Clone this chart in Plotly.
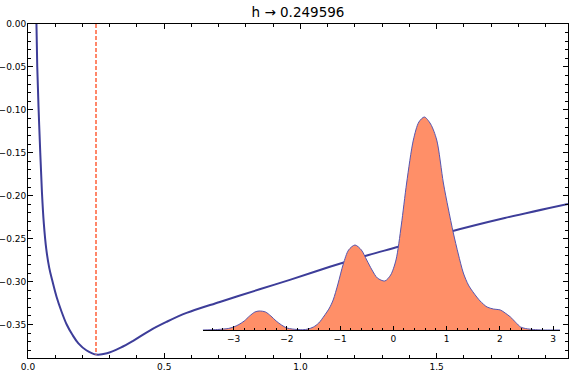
import plotly.graph_objects as go

# ---- main curve: cross-validation score vs bandwidth h ----
h_vals = [0.031, 0.034, 0.039, 0.045, 0.051, 0.058, 0.067, 0.078, 0.090, 0.105,
          0.122, 0.142, 0.163, 0.185, 0.214, 0.250, 0.290, 0.340, 0.386, 0.447,
          0.508, 0.582, 0.704, 0.850, 0.961, 1.108, 1.250, 1.359, 1.549, 1.750, 1.982]
cv_vals = [0.0, -0.05, -0.10, -0.15, -0.195, -0.232, -0.262, -0.284, -0.300, -0.318,
           -0.334, -0.350, -0.362, -0.372, -0.380, -0.385, -0.3835, -0.377, -0.369, -0.357,
           -0.347, -0.3365, -0.3237, -0.309, -0.298, -0.2828, -0.269, -0.2595, -0.242, -0.226, -0.2096]

h_opt = 0.249596
cv_min = -0.385

# ---- inset: kernel density estimate ----
dens_x = [-3.58, -3.3, -3.1, -3.0, -2.9, -2.8, -2.7, -2.6, -2.52, -2.4, -2.3, -2.2,
          -2.1, -2.0, -1.9, -1.8, -1.7, -1.6, -1.5, -1.4, -1.3, -1.2, -1.13, -1.04,
          -0.94, -0.84, -0.72, -0.6, -0.5, -0.4, -0.3, -0.16, -0.05, 0.05, 0.15, 0.25,
          0.376, 0.48, 0.583, 0.7, 0.815, 0.94, 1.03, 1.127, 1.22, 1.315, 1.41, 1.51,
          1.63, 1.76, 1.88, 2.01, 2.1, 2.2, 2.3, 2.39, 2.48, 2.57, 2.7, 2.85, 3.13]
dens_y = [0.0, 0.001, 0.003, 0.006, 0.011, 0.018, 0.028, 0.036, 0.038, 0.036, 0.028, 0.018,
          0.010, 0.004, 0.002, 0.001, 0.0005, 0.002, 0.006, 0.014, 0.028, 0.044, 0.060, 0.092,
          0.132, 0.160, 0.170, 0.160, 0.140, 0.120, 0.104, 0.098, 0.110, 0.140, 0.210, 0.294,
          0.380, 0.416, 0.426, 0.412, 0.380, 0.294, 0.244, 0.194, 0.152, 0.114, 0.090, 0.074,
          0.058, 0.046, 0.042, 0.040, 0.034, 0.026, 0.015, 0.006, 0.003, 0.0016, 0.0004, 0.0, 0.0]

main_ticks_x = [0.0, 0.5, 1.0, 1.5]
main_ticks_y = [0.0, -0.05, -0.10, -0.15, -0.20, -0.25, -0.30, -0.35]
inset_ticks = [-3, -2, -1, 0, 1, 2, 3]

BLUE = "rgb(61,61,153)"
FILL = "rgb(255,143,104)"
DASH = "rgb(255,135,105)"
FONT = "DejaVu Sans"

fig = go.Figure()

fig.add_trace(go.Scatter(x=h_vals, y=cv_vals, mode="lines",
                         line=dict(color=BLUE, width=2, shape="spline", smoothing=1.0),
                         hoverinfo="skip", showlegend=False))
fig.add_trace(go.Scatter(x=[h_opt, h_opt], y=[0.0, cv_min], mode="lines",
                         line=dict(color=DASH, width=2, dash="4px,2px"),
                         hoverinfo="skip", showlegend=False))
fig.add_trace(go.Scatter(x=dens_x, y=dens_y, mode="lines", xaxis="x2", yaxis="y2",
                         fill="tozeroy", fillcolor=FILL,
                         line=dict(color="rgb(85,85,175)", width=1, shape="spline", smoothing=0.8),
                         hoverinfo="skip", showlegend=False))

W, H = 570, 374
ml, mr, mt, mb = 28, 2, 24, 16
pw, ph = W - ml - mr, H - mt - mb

# inset placement in pixels
ix0, ix1, iy_base = 202.7, 560.0, 330.0
dom_x = [(ix0 - ml) / pw, (ix1 - ml) / pw]
dom_y = [(H - mb - iy_base) / ph, 1.0]
peak_px = 213.0
ymax2 = max(dens_y) * (iy_base - mt) / peak_px

tickfont = dict(family=FONT, size=9, color="black")

fig.update_layout(
    width=W, height=H,
    margin=dict(l=ml, r=mr, t=mt, b=mb, autoexpand=False),
    paper_bgcolor="white", plot_bgcolor="rgba(0,0,0,0)",
    title=dict(text="h \u2192 0.249596", x=0.5, xref="paper", y=1 - 12 / H, yref="container",
               xanchor="center", yanchor="middle", automargin=False,
               font=dict(family=FONT, size=13.5, color="black")),
    xaxis=dict(range=[0, 1.982], tickvals=main_ticks_x, tickformat=".1f", automargin=False,
               showline=True, linecolor="black", linewidth=1, mirror="ticks",
               ticks="inside", ticklen=5, tickcolor="black", ticklabelstandoff=0,
               minor=dict(dtick=0.1, tick0=0, ticks="inside", ticklen=3, tickcolor="black"),
               showgrid=False, zeroline=False, tickfont=tickfont),
    yaxis=dict(range=[-0.389, 0], tickvals=main_ticks_y, tickformat=".2f", automargin=False,
               showline=True, linecolor="black", linewidth=1, mirror="ticks",
               ticks="inside", ticklen=5, tickcolor="black", ticklabelstandoff=-1,
               minor=dict(dtick=0.01, tick0=0, ticks="inside", ticklen=3, tickcolor="black"),
               showgrid=False, zeroline=False, tickfont=tickfont),
    xaxis2=dict(domain=dom_x, anchor="y2", range=[-3.58, 3.13], tickvals=inset_ticks,
                automargin=False,
                showline=True, linecolor="black", linewidth=1,
                ticks="inside", ticklen=4, tickcolor="black",
                minor=dict(dtick=0.2, tick0=0, ticks="inside", ticklen=2, tickcolor="black"),
                showgrid=False, zeroline=False, tickfont=tickfont),
    yaxis2=dict(domain=dom_y, anchor="x2", range=[0, ymax2], visible=False, automargin=False,
                showgrid=False, zeroline=False),
)

fig.write_html("out.html", config={"displayModeBar": False},
               post_script="document.body.style.margin='0px';document.body.style.padding='0px';")
